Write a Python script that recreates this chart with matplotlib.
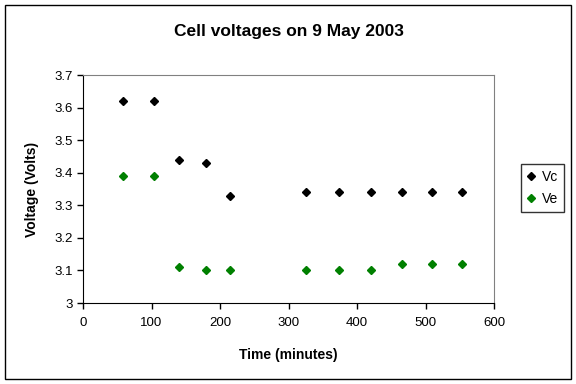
import matplotlib
matplotlib.use('Agg')
import matplotlib.pyplot as plt
from matplotlib.patches import Rectangle

plt.rcParams['font.family'] = ['Liberation Sans', 'DejaVu Sans']

# time in minutes
t = [58, 103, 140, 180, 214, 325, 374, 420, 466, 510, 554]
# cell voltages
vc = [3.62, 3.62, 3.44, 3.43, 3.33, 3.34, 3.34, 3.34, 3.34, 3.34, 3.34]
ve = [3.39, 3.39, 3.11, 3.10, 3.10, 3.10, 3.10, 3.10, 3.12, 3.12, 3.12]

fig = plt.figure(figsize=(5.76, 3.84), dpi=100)
ax = fig.add_axes([83/576, 1-303/384, 411/576, 228/384])

ax.plot(t, vc, 'D', color='black', ms=4, label='Vc')
ax.plot(t, ve, 'D', color='green', ms=4, label='Ve')

ax.set_xlim(0, 600)
ax.set_ylim(3.0, 3.7)
ax.set_xticks(range(0, 601, 100))
ax.set_yticks([3.0, 3.1, 3.2, 3.3, 3.4, 3.5, 3.6, 3.7])
ax.set_yticklabels(['3', '3.1', '3.2', '3.3', '3.4', '3.5', '3.6', '3.7'])
ax.tick_params(direction='out', length=4, width=1, labelsize=9.5, color='black')
ax.tick_params(axis='x', pad=6)

for s in ['top', 'right']:
    ax.spines[s].set_color('gray')
for s in ['left', 'bottom']:
    ax.spines[s].set_color('black')

ax.set_title('Cell voltages on 9 May 2003', fontsize=12.5, fontweight='bold', pad=28)
ax.set_xlabel('Time (minutes)', fontsize=10, fontweight='bold', labelpad=14)
ax.set_ylabel('Voltage (Volts)', fontsize=10, fontweight='bold', labelpad=11)

leg = ax.legend(loc='center left', bbox_to_anchor=(521/576, 1-188/384),
                bbox_transform=fig.transFigure, fontsize=10, frameon=True,
                fancybox=False, edgecolor='black', handlelength=0.6,
                handletextpad=0.5, borderpad=0.4, labelspacing=0.6,
                borderaxespad=0)
leg.get_frame().set_linewidth(1)

# outer chart border
fig.patches.append(Rectangle((5/576, 5/384), 566/576, 374/384, transform=fig.transFigure,
                             fill=False, edgecolor='black', lw=1))

fig.savefig('out.png', dpi=100)
